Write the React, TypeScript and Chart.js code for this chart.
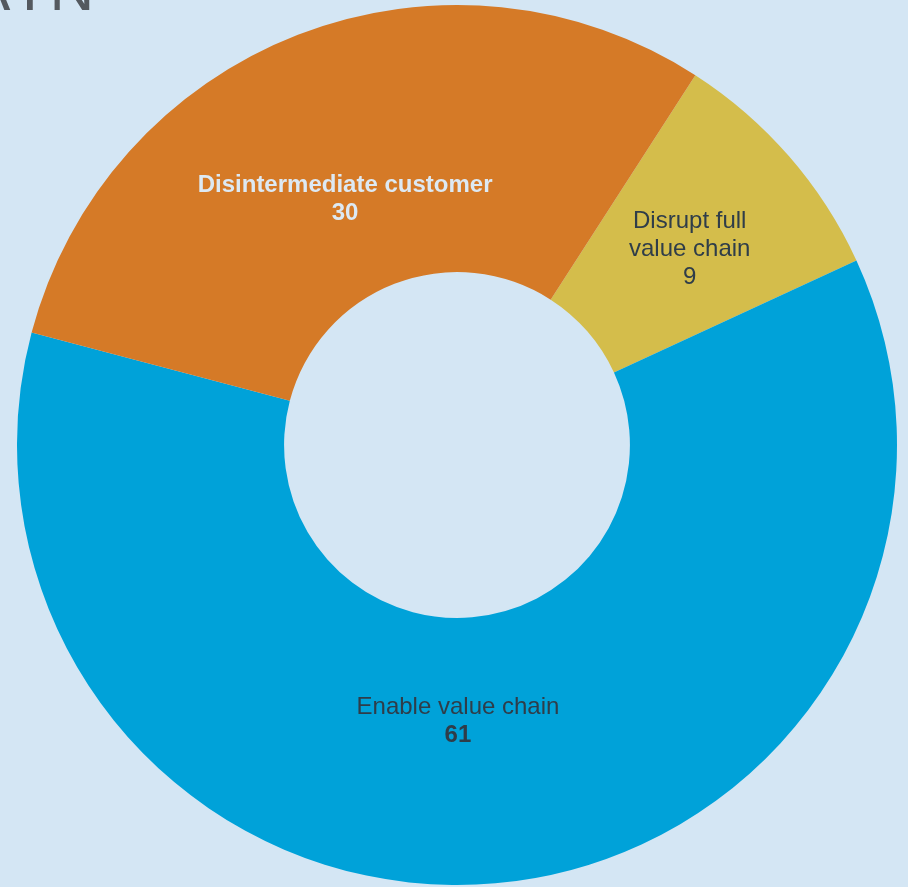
import React, { useEffect, useRef } from "react";
import { Chart, registerables } from "chart.js";

Chart.register(...registerables);

const categories = ["Disrupt full value chain", "Enable value chain", "Disintermediate customer"];
const labelLines = [["Disrupt full", "value chain"], ["Enable value chain"], ["Disintermediate customer"]];
const values = [9, 61, 30];
const sliceColors = ["#d4bd4b", "#00a2d9", "#d57a27"];
const textColors = ["#2f3d49", "#2f3d49", "#dde9f3"];
const nameBold = [false, false, true];
const valueBold = [false, true, true];
// label placement (style, not data): angle nudge in degrees and radial fraction inside ring
const labelAngleNudge = [1, 4.8, -3.3];
const labelRadialFrac = [0.49, 0.386, 0.363];

const BG = "#d4e6f4";
const FONT = '"Liberation Sans", Arial, sans-serif';

const labelPlugin = {
  id: "sliceLabels",
  afterDatasetsDraw(chart: any) {
    const ctx = chart.ctx;
    const meta = chart.getDatasetMeta(0);
    ctx.save();
    ctx.textAlign = "center";
    ctx.textBaseline = "middle";
    meta.data.forEach((arc: any, i: number) => {
      const p = arc.getProps(["x", "y", "startAngle", "endAngle", "innerRadius", "outerRadius"], true);
      const mid = (p.startAngle + p.endAngle) / 2 + (labelAngleNudge[i] * Math.PI) / 180;
      const r = p.innerRadius + (p.outerRadius - p.innerRadius) * labelRadialFrac[i];
      const cx = p.x + Math.cos(mid) * r;
      const cy = p.y + Math.sin(mid) * r;
      const lines = [...labelLines[i], String(values[i])];
      const lh = 28;
      const start = cy - ((lines.length - 1) * lh) / 2;
      ctx.fillStyle = textColors[i];
      lines.forEach((t, j) => {
        const isValue = j === lines.length - 1;
        const bold = isValue ? valueBold[i] : nameBold[i];
        ctx.font = `${bold ? "bold " : ""}24px ${FONT}`;
        ctx.fillText(t, cx, start + j * lh);
      });
    });
    ctx.restore();
  },
  afterDraw(chart: any) {
    const ctx = chart.ctx;
    ctx.save();
    ctx.font = `62px ${FONT}`;
    (ctx as any).letterSpacing = "11px";
    ctx.textAlign = "left";
    ctx.textBaseline = "alphabetic";
    ctx.fillStyle = "#54595f";
    ctx.fillText("AIN", -31, 10);
    ctx.restore();
  },
};

export default function App() {
  const ref = useRef<HTMLCanvasElement | null>(null);
  useEffect(() => {
    if (!ref.current) return;
    const chart = new Chart(ref.current, {
      type: "doughnut",
      data: {
        labels: categories,
        datasets: [
          {
            data: values,
            backgroundColor: sliceColors,
            borderWidth: 0,
            hoverOffset: 0,
          },
        ],
      },
      options: {
        responsive: false,
        animation: false,
        rotation: 32.8,
        cutout: "39.3%",
        layout: { padding: { left: 17, right: 11, top: 5, bottom: 2 } },
        plugins: {
          legend: { display: false },
          tooltip: { enabled: false },
          title: { display: false },
        },
      },
      plugins: [labelPlugin],
    });
    return () => chart.destroy();
  }, []);
  return (
    <div
      style={{
        position: "fixed",
        left: 0,
        top: 0,
        width: 908,
        height: 887,
        background: BG,
        overflow: "hidden",
      }}
    >
      <canvas ref={ref} width={908} height={887} style={{ position: "absolute", left: 0, top: 0, width: 908, height: 887 }} />
    </div>
  );
}
